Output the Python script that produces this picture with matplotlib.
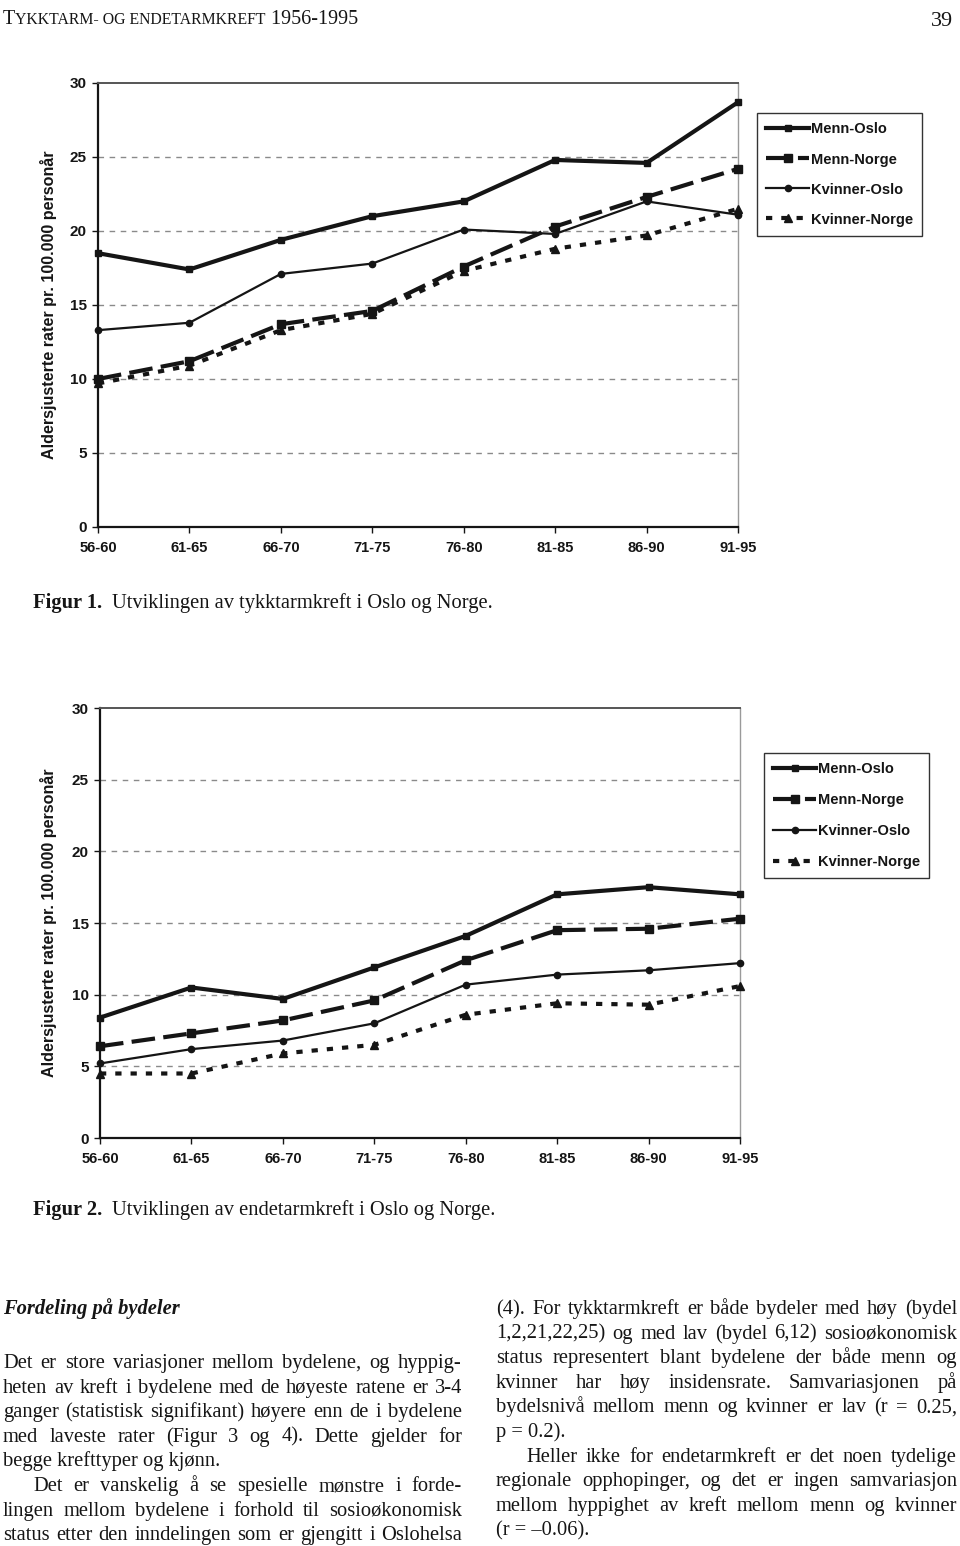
import matplotlib
matplotlib.use("Agg")
import matplotlib.pyplot as plt

# page size in pixels
W, H = 960, 1546

periods = ["56-60", "61-65", "66-70", "71-75", "76-80", "81-85", "86-90", "91-95"]
series_names = ["Menn-Oslo", "Menn-Norge", "Kvinner-Oslo", "Kvinner-Norge"]
yticks = [0, 5, 10, 15, 20, 25, 30]

# Figur 1 - tykktarmkreft
tykk_menn_oslo = [18.5, 17.4, 19.4, 21.0, 22.0, 24.8, 24.6, 28.7]
tykk_menn_norge = [10.0, 11.2, 13.7, 14.6, 17.6, 20.3, 22.3, 24.2]
tykk_kvinner_oslo = [13.3, 13.8, 17.1, 17.8, 20.1, 19.8, 22.0, 21.1]
tykk_kvinner_norge = [9.7, 10.9, 13.3, 14.4, 17.3, 18.8, 19.7, 21.5]

# Figur 2 - endetarmkreft
ende_menn_oslo = [8.4, 10.5, 9.7, 11.9, 14.1, 17.0, 17.5, 17.0]
ende_menn_norge = [6.4, 7.3, 8.2, 9.6, 12.4, 14.5, 14.6, 15.3]
ende_kvinner_oslo = [5.2, 6.2, 6.8, 8.0, 10.7, 11.4, 11.7, 12.2]
ende_kvinner_norge = [4.5, 4.5, 5.9, 6.5, 8.6, 9.4, 9.3, 10.6]

ylabel = "Aldersjusterte rater pr. 100.000 personår"
header_parts = [("T", 14.5), ("YKKTARM- OG ENDETARMKREFT", 11.3), (" 1956-1995", 14.5)]
page_no = "39"
captions = [("Figur 1.", "Utviklingen av tykktarmkreft i Oslo og Norge."),
            ("Figur 2.", "Utviklingen av endetarmkreft i Oslo og Norge.")]
heading = "Fordeling på bydeler"
left_lines = [
    ("Det er store variasjoner mellom bydelene, og hyppig-", True, 0),
    ("heten av kreft i bydelene med de høyeste ratene er 3-4", True, 0),
    ("ganger (statistisk signifikant) høyere enn de i bydelene", True, 0),
    ("med laveste rater (Figur 3 og 4). Dette gjelder for", True, 0),
    ("begge krefttyper og kjønn.", False, 0),
    ("Det er vanskelig å se spesielle mønstre i forde-", True, 30),
    ("lingen mellom bydelene i forhold til sosioøkonomisk", True, 0),
    ("status etter den inndelingen som er gjengitt i Oslohelsa", True, 0),
]
right_lines = [
    ("(4). For tykktarmkreft er både bydeler med høy (bydel", True, 0),
    ("1,2,21,22,25) og med lav (bydel 6,12) sosioøkonomisk", True, 0),
    ("status representert blant bydelene der både menn og", True, 0),
    ("kvinner har høy insidensrate. Samvariasjonen på", True, 0),
    ("bydelsnivå mellom menn og kvinner er lav (r = 0.25,", True, 0),
    ("p = 0.2).", False, 0),
    ("Heller ikke for endetarmkreft er det noen tydelige", True, 30),
    ("regionale opphopinger, og det er ingen samvariasjon", True, 0),
    ("mellom hyppighet av kreft mellom menn og kvinner", True, 0),
    ("(r = –0.06).", False, 0),
]

plt.rcParams["lines.scale_dashes"] = False
SANS = ["Liberation Sans", "DejaVu Sans"]
SERIF = ["Liberation Serif", "DejaVu Serif"]
INK = "#151515"


def fx(x):
    return x / W


def fy(y):
    return 1 - y / H


fig = plt.figure(figsize=(W / 100, H / 100), dpi=100)
fig.patch.set_facecolor("white")
renderer = fig.canvas.get_renderer()

# line styles for the four series
styles = [
    dict(color=INK, lw=3.0, ls="-", marker="s", ms=5),
    dict(color=INK, lw=3.0, dashes=(17, 6), marker="s", ms=6),
    dict(color=INK, lw=1.6, ls="-", marker="o", ms=4.5),
    dict(color=INK, lw=3.0, dashes=(4.5, 6.5), marker="^", ms=6),
]


def draw_chart(box, data, legend_pos, label_spacing, pad):
    left, top, right, bottom = box
    ax = fig.add_axes([fx(left), fy(bottom), fx(right - left), (bottom - top) / H])
    xs = list(range(len(periods)))
    lines = []
    for vals, st, name in zip(data, styles, series_names):
        ln, = ax.plot(xs, vals, label=name, clip_on=False, zorder=3, **st)
        lines.append(ln)
    ax.set_xlim(0, len(periods) - 1)
    ax.set_ylim(0, 30)
    ax.set_xticks(xs)
    ax.set_xticklabels(periods)
    ax.set_yticks(yticks)
    ax.set_yticklabels([str(v) for v in yticks])
    for v in yticks[1:-1]:
        ax.axhline(v, color="#8a8a8a", lw=1.0, dashes=(4, 4), zorder=1)
    for lab in ax.get_xticklabels() + ax.get_yticklabels():
        lab.set_family(SANS)
        lab.set_fontweight("bold")
        lab.set_color(INK)
    ax.tick_params(axis="x", labelsize=10.5, length=4, width=1, pad=6, color=INK)
    ax.tick_params(axis="y", labelsize=11, length=4, width=1, pad=4, color=INK)
    ax.spines["left"].set_linewidth(1.6)
    ax.spines["bottom"].set_linewidth(1.6)
    ax.spines["left"].set_color(INK)
    ax.spines["bottom"].set_color(INK)
    ax.spines["top"].set_color("#555555")
    ax.spines["top"].set_linewidth(1.4)
    ax.spines["right"].set_color("#9a9a9a")
    ax.spines["right"].set_linewidth(1.0)
    fig.text(fx(49), fy((top + bottom) / 2), ylabel, rotation=90, ha="center", va="center",
             family=SANS, fontweight="bold", fontsize=11.6, color=INK)
    lx, ly = legend_pos
    leg = ax.legend(handles=lines, loc="upper left",
                    bbox_to_anchor=(fx(lx), fy(ly)),
                    bbox_transform=fig.transFigure, borderaxespad=0,
                    fancybox=False, framealpha=1, edgecolor="#333333",
                    handlelength=2.9, handletextpad=0.12, labelspacing=label_spacing,
                    borderpad=pad, prop=dict(family=SANS, weight="bold", size=10.5))
    leg.get_frame().set_linewidth(1.0)
    for t in leg.get_texts():
        t.set_color(INK)
    return ax


draw_chart((98, 83, 738, 527),
           [tykk_menn_oslo, tykk_menn_norge, tykk_kvinner_oslo, tykk_kvinner_norge],
           (757, 113), 1.1, 0.65)
draw_chart((100, 708, 740, 1138),
           [ende_menn_oslo, ende_menn_norge, ende_kvinner_oslo, ende_kvinner_norge],
           (764, 753), 1.15, 0.65)

# header in small caps
x = 3
for txt, size in header_parts:
    t = fig.text(fx(x), fy(24), txt, family=SERIF, fontsize=size, va="baseline", color=INK)
    x += t.get_window_extent(renderer).width
fig.text(fx(953), fy(26), page_no, family=SERIF, fontsize=16, va="baseline", ha="right", color=INK)

# figure captions
for (bold, rest), yb in zip(captions, [608, 1215]):
    fig.text(fx(33), fy(yb), bold, family=SERIF, fontweight="bold", fontsize=14.8,
             va="baseline", color=INK)
    fig.text(fx(112), fy(yb), rest, family=SERIF, fontsize=14.8, va="baseline", color=INK)


def put_line(text, x0, x1, yb, justify, indent, size=14.8):
    if not justify:
        fig.text(fx(x0 + indent), fy(yb), text, family=SERIF, fontsize=size,
                 va="baseline", color=INK)
        return
    words = text.split(" ")
    objs = [fig.text(0, 0, w, family=SERIF, fontsize=size, va="baseline", color=INK)
            for w in words]
    widths = [o.get_window_extent(renderer).width for o in objs]
    gap = (x1 - x0 - indent - sum(widths)) / (len(words) - 1)
    xx = x0 + indent
    for o, w in zip(objs, widths):
        o.set_position((fx(xx), fy(yb)))
        xx += w + gap


fig.text(fx(3), fy(1314), heading, family=SERIF, fontstyle="italic", fontweight="bold",
         fontsize=14.8, va="baseline", color=INK)
for i, (txt, just, ind) in enumerate(left_lines):
    put_line(txt, 3, 462, 1368 + 24.6 * i, just, ind)
for i, (txt, just, ind) in enumerate(right_lines):
    put_line(txt, 496, 957, 1314 + 24.6 * i, just, ind)

fig.savefig("out.png", dpi=100, facecolor="white")
